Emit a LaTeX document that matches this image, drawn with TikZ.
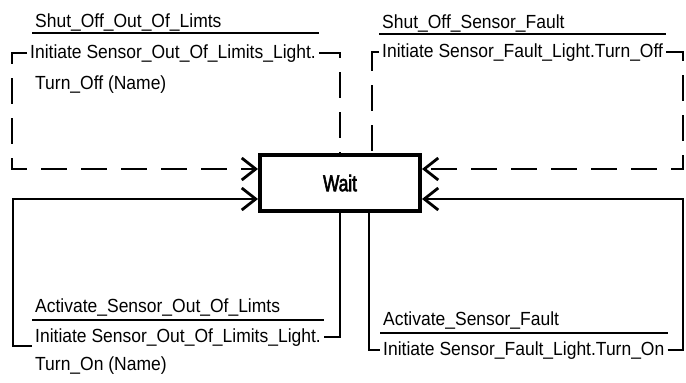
\documentclass[tikz,border=0pt]{standalone}
\usepackage{fontspec}
\setmainfont{Liberation Sans}[FakeStretch=0.92]
\newfontfamily\waitfont{Liberation Sans}[FakeStretch=0.75, FakeBold=2.5]
\usetikzlibrary{arrows.meta}

\tikzset{
  lbl/.style={inner xsep=3pt, inner ysep=0pt, anchor=base west, font=\fontsize{19}{22}\selectfont},
  statebox/.style={draw, line width=4pt, minimum width=160pt, minimum height=56pt, font=\waitfont\fontsize{23}{26}\selectfont},
  loopline/.style={line width=2.2pt},
  dashloop/.style={loopline, dash pattern=on 26pt off 14pt},
  intip/.style={-{Straight Barb[length=14pt,width=22pt,line width=2.8pt]}},
  sepline/.style={line width=1.3pt}
}

\begin{document}
\begin{tikzpicture}[x=1pt,y=-1pt]
  \useasboundingbox (0,0) rectangle (686,383);
  \node[statebox] (wait) at (340,183) {Wait};

  % corners of the four loops
  \coordinate (tlC) at (12,169);
  \coordinate (trC) at (683,169);
  \coordinate (blC) at (13,199);
  \coordinate (brC) at (683,199);

  % shut off, out of limits
  \node[lbl] (sooEv) at (32,27) {Shut\_Off\_Out\_Of\_Limts};
  \node[lbl] (sooAct) at (27,58) {Initiate Sensor\_Out\_Of\_Limits\_Light.};
  \node[lbl] (sooAct2) at (32,89) {Turn\_Off (Name)};
  \draw[sepline] ([yshift=-2pt]sooEv.south west) -- ([yshift=-2pt]sooEv.south west -| sooAct.east);
  \draw[dashloop] (sooAct.east) -| (wait.north -| 340,0);
  \draw[dashloop, intip] (sooAct.west) -| (tlC) -- (wait.west |- tlC);

  % shut off, sensor fault
  \node[lbl] (ssfEv) at (379,28) {Shut\_Off\_Sensor\_Fault};
  \node[lbl] (ssfAct) at (379,57) {Initiate Sensor\_Fault\_Light.Turn\_Off};
  \draw[sepline] ([yshift=-2pt]ssfEv.south west) -- ([yshift=-2pt]ssfEv.south west -| ssfAct.east);
  \draw[dashloop] (ssfAct.west) -| (wait.north -| 372,0);
  \draw[dashloop, intip] (ssfAct.east) -| (trC) -- (wait.east |- trC);

  % activate, out of limits
  \node[lbl] (asoEv) at (32,312) {Activate\_Sensor\_Out\_Of\_Limts};
  \node[lbl] (asoAct) at (32,342) {Initiate Sensor\_Out\_Of\_Limits\_Light.};
  \node[lbl] (asoAct2) at (32,370) {Turn\_On (Name)};
  \draw[sepline] ([yshift=-4pt]asoEv.south west) -- ([yshift=-4pt]asoEv.south west -| asoAct.east);
  \draw[loopline] (wait.south -| 340,0) |- (asoAct.east);
  \draw[loopline, intip] (asoAct.south west) -| (blC) -- (wait.west |- blC);

  % activate, sensor fault
  \node[lbl] (asfEv) at (380,325) {Activate\_Sensor\_Fault};
  \node[lbl] (asfAct) at (380,355) {Initiate Sensor\_Fault\_Light.Turn\_On};
  \draw[sepline] ([yshift=-4pt]asfEv.south west) -- ([yshift=-4pt]asfEv.south west -| asfAct.east);
  \draw[loopline] (wait.south -| 369,0) |- (asfAct.west);
  \draw[loopline, intip] (asfAct.east) -| (brC) -- (wait.east |- brC);
\end{tikzpicture}
\end{document}
